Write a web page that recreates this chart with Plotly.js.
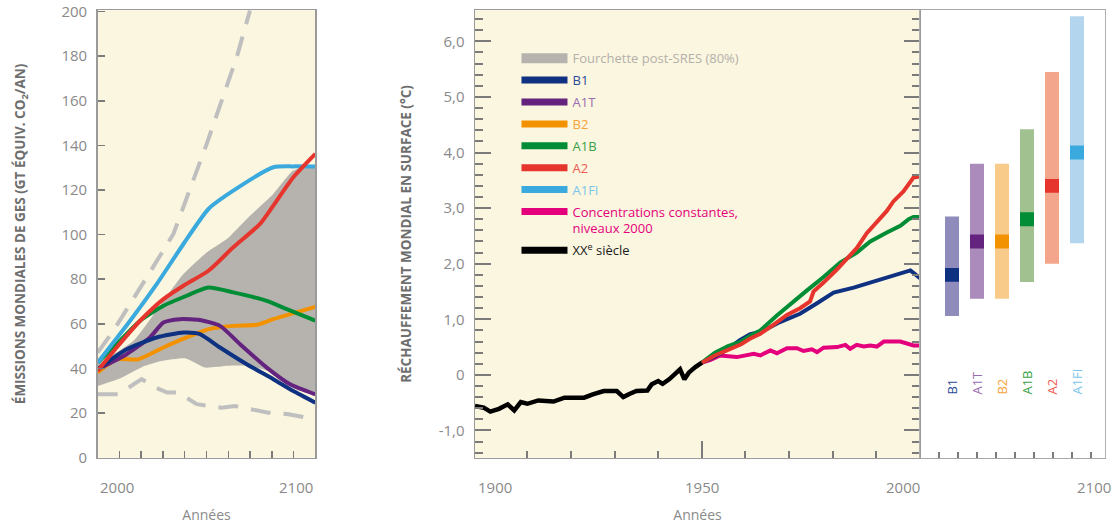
<!DOCTYPE html>
<html>
<head>
<meta charset="utf-8">
<script src="https://cdn.plot.ly/plotly-3.0.1.min.js"></script>
<style>html,body{margin:0;padding:0;background:#fff}#chart{width:1116px;height:524px}</style>
</head>
<body>
<div id="chart"></div>
<script>
// ---------- Left panel: emissions (Gt CO2-eq / yr) ----------
const bandUpperYears = [2000, 2016.4, 2030.2, 2039.4, 2050.1, 2059.3, 2070, 2080.7, 2089.9, 2100];
const bandUpperVals  = [42, 52.4, 70.3, 82.3, 92.0, 98.0, 108.5, 118.2, 128.7, 131];
const bandLowerYears = [2000, 2011, 2021.7, 2029.4, 2040.1, 2044.7, 2049.3, 2060, 2069.2, 2078.4, 2090, 2100];
const bandLowerVals  = [32.2, 35.9, 41.2, 43.4, 44.6, 42.6, 40.4, 41.2, 41.2, 38.9, 33, 29];

const dashUpperYears = [2000, 2007.2, 2022.5, 2034.8, 2050.1, 2063.9, 2070];
const dashUpperVals  = [47.1, 56.9, 80.8, 100.3, 140.7, 179.6, 200.5];
const dashLowerYears = [2000, 2009.5, 2020.2, 2027.1, 2032, 2037, 2045.5, 2057, 2063, 2067.7, 2078.4, 2087.6, 2100];
const dashLowerVals  = [28.5, 28.5, 35.2, 31.2, 29.2, 29.2, 24.0, 22.4, 23.2, 22.2, 20.2, 19.5, 17.2];

const emB2Years   = [2000, 2008.7, 2018.7, 2030.2, 2040.9, 2050.9, 2062.3, 2073.1, 2080.7, 2100];
const emB2Vals    = [38.2, 44.1, 44.1, 49.4, 53.9, 57.6, 59.1, 59.6, 62.1, 67.6];
const emA1BYears  = [2000, 2008.7, 2019.5, 2030.2, 2040.9, 2050.9, 2062.3, 2077.7, 2086.9, 2100];
const emA1BVals   = [42.6, 50.9, 61.4, 68.1, 72.6, 76.3, 74.1, 70.3, 66.6, 61.4];
const emA1FIYears = [2000, 2014.9, 2027.1, 2039.4, 2050.9, 2062.3, 2080.7, 2089.9, 2100];
const emA1FIVals  = [42.6, 61.4, 77.8, 95.8, 111.5, 119.7, 130.2, 130.6, 130.5];
const emA1TYears  = [2000, 2013.3, 2024, 2030.2, 2037.8, 2047, 2056.2, 2065.4, 2077.7, 2088.4, 2100];
const emA1TVals   = [39.7, 46.4, 53.9, 60.6, 62.1, 61.7, 59.1, 50.9, 40.4, 32.9, 28.4];
const emB1Years   = [2000, 2013.3, 2027.1, 2039.4, 2047, 2056.2, 2068.5, 2080.7, 2089.9, 2100];
const emB1Vals    = [39.7, 48.6, 53.9, 56.1, 55.4, 49.4, 41.9, 35.2, 29.9, 24.7];
const emA2Years   = [2000, 2008.7, 2019.5, 2030.2, 2039.4, 2050.9, 2062.3, 2074.6, 2080.7, 2089.9, 2100];
const emA2Vals    = [38.9, 49.4, 61.4, 71.1, 77.1, 83.8, 94.3, 104.8, 113.0, 125.7, 136.2];
const emTicks = [0, 20, 40, 60, 80, 100, 120, 140, 160, 180, 200];

// ---------- Middle panel: surface warming (°C) ----------
const histYears = [1898, 1900, 1901.5, 1903.5, 1905.5, 1907, 1908.5, 1910, 1912.5, 1916, 1918.5, 1921.5, 1923, 1925, 1927.5, 1930.5, 1932, 1933.5, 1935, 1937.5, 1938.5, 1940, 1941, 1942.5, 1943.5, 1945, 1946, 1947, 1948.5, 1950];
const histVals  = [-0.56, -0.59, -0.66, -0.61, -0.53, -0.64, -0.49, -0.52, -0.46, -0.48, -0.41, -0.40, -0.41, -0.35, -0.29, -0.29, -0.40, -0.34, -0.29, -0.28, -0.17, -0.11, -0.16, -0.08, 0.0, 0.10, -0.08, 0.04, 0.14, 0.22];

const tB1Years = [1950, 1952, 1954.2, 1956.5, 1958.8, 1961, 1964, 1967.9, 1972.5, 1976.4, 1980.2, 1984.8, 1988.6, 1992.4, 1995.5, 1997.8, 2000];
const tB1Vals  = [0.22, 0.30, 0.38, 0.50, 0.63, 0.73, 0.79, 0.95, 1.10, 1.29, 1.48, 1.57, 1.66, 1.75, 1.82, 1.88, 1.74];
const tA1BYears = [1950, 1953, 1956, 1959, 1961, 1963.4, 1967.2, 1971, 1974.1, 1977.9, 1981.7, 1985.5, 1988.6, 1992.4, 1995.5, 1997.4, 1998.5, 2000];
const tA1BVals  = [0.22, 0.40, 0.52, 0.60, 0.70, 0.80, 1.07, 1.33, 1.52, 1.76, 2.02, 2.20, 2.40, 2.56, 2.68, 2.80, 2.84, 2.84];
const tA2Years = [1950, 1953, 1956, 1959, 1961, 1963.4, 1966.4, 1969.5, 1972.5, 1974.8, 1975.6, 1977.9, 1981, 1984, 1985.5, 1987.8, 1990.1, 1992.4, 1993.9, 1996.2, 1998.5, 2000];
const tA2Vals  = [0.22, 0.35, 0.45, 0.55, 0.65, 0.74, 0.90, 1.08, 1.20, 1.32, 1.50, 1.66, 1.90, 2.15, 2.28, 2.55, 2.75, 2.95, 3.12, 3.30, 3.55, 3.57];
const tConstYears = [1950, 1952, 1954.2, 1958, 1961.9, 1963.4, 1965.7, 1967.2, 1969.5, 1971.8, 1973.3, 1975.2, 1976.4, 1977.9, 1981, 1982.9, 1984, 1985.5, 1987.1, 1988.6, 1990.1, 1991.7, 1995.5, 1998.5, 2000];
const tConstVals  = [0.22, 0.27, 0.35, 0.32, 0.38, 0.35, 0.44, 0.39, 0.48, 0.48, 0.43, 0.46, 0.41, 0.49, 0.50, 0.54, 0.47, 0.54, 0.51, 0.53, 0.51, 0.60, 0.60, 0.53, 0.53];
const tempTickVals = [-1, 0, 1, 2, 3, 4, 5, 6];
const tempTickText = ['-1,0', '0', '1,0', '2,0', '3,0', '4,0', '5,0', '6,0'];

// ---------- Right panel: likely ranges by scenario ----------
const scenarios = ['B1', 'A1T', 'B2', 'A1B', 'A2', 'A1FI'];
const rangeLow  = [1.06, 1.37, 1.37, 1.67, 2.0, 2.37];
const rangeHigh = [2.85, 3.8, 3.8, 4.42, 5.45, 6.45];
const bestEst   = [1.8, 2.4, 2.4, 2.8, 3.4, 4.0];

// ---------- Styles ----------
const C = {
  B1: '#0e3182', A1T: '#64237f', B2: '#f39200', A1B: '#008d36', A2: '#e5352d', A1FI: '#3aa9dd',
  cst: '#e4007c', hist: '#000000', band: '#b6b3ae', dash: '#bfbfbf', cream: '#fbf6df'
};
const lightC = {B1: '#8f8bbb', A1T: '#ab8bbb', B2: '#f8cb8b', A1B: '#a1c190', A2: '#f3a68c', A1FI: '#b3d6ee'};
const labelC = {B1: '#2b4a99', A1T: '#9b6cb1', B2: '#f5a33b', A1B: '#3aa14a', A2: '#ef5a50', A1FI: '#7cc4ea'};
const tickGrey = '#7b7b7b';
const labelGrey = '#8a8a8a';
const FONT = 'Open Sans, sans-serif';

const traces = [];
// grey band
traces.push({
  x: bandUpperYears.concat(bandLowerYears.slice().reverse()),
  y: bandUpperVals.concat(bandLowerVals.slice().reverse()),
  xaxis: 'x', yaxis: 'y', mode: 'lines', fill: 'toself', fillcolor: C.band,
  line: {width: 0, color: C.band, shape: 'spline', smoothing: 0.5}, showlegend: false, hoverinfo: 'skip'
});
[[dashUpperYears, dashUpperVals], [dashLowerYears, dashLowerVals]].forEach(([x, y]) => traces.push({
  x, y, xaxis: 'x', yaxis: 'y', mode: 'lines', showlegend: false,
  line: {color: C.dash, width: 4, dash: '20px,13px'}
}));
[['B2', emB2Years, emB2Vals], ['A1B', emA1BYears, emA1BVals], ['A1FI', emA1FIYears, emA1FIVals],
 ['A1T', emA1TYears, emA1TVals], ['B1', emB1Years, emB1Vals], ['A2', emA2Years, emA2Vals]].forEach(([k, x, y]) => traces.push({
  x, y, xaxis: 'x', yaxis: 'y', mode: 'lines', showlegend: false, name: k,
  line: {color: C[k], width: 4, shape: 'spline', smoothing: 0.6}
}));

// middle panel
[['cst', tConstYears, tConstVals], ['B1', tB1Years, tB1Vals], ['A1B', tA1BYears, tA1BVals],
 ['A2', tA2Years, tA2Vals], ['hist', histYears, histVals]].forEach(([k, x, y]) => traces.push({
  x, y, xaxis: 'x2', yaxis: 'y2', mode: 'lines', showlegend: false,
  line: {color: C[k], width: k === 'hist' ? 4.5 : 4}
}));

// right panel bars
const pos = scenarios.map((s, i) => i);
traces.push({
  type: 'bar', x: pos, y: rangeHigh.map((h, i) => h - rangeLow[i]), base: rangeLow,
  xaxis: 'x3', yaxis: 'y3', width: 0.56, marker: {color: scenarios.map(s => lightC[s]), line: {width: 0}},
  showlegend: false, hoverinfo: 'skip'
});
traces.push({
  type: 'bar', x: pos, y: bestEst.map(() => 0.25), base: bestEst.map(b => b - 0.125),
  xaxis: 'x3', yaxis: 'y3', width: 0.56, marker: {color: scenarios.map(s => C[s]), line: {width: 0}},
  showlegend: false, hoverinfo: 'skip'
});

// legend entries
const legendItems = [
  ['Fourchette post-SRES (80%)', C.band, '#b3b0ab', 10],
  ['B1', C.B1, labelC.B1, 7],
  ['A1T', C.A1T, labelC.A1T, 7],
  ['B2', C.B2, labelC.B2, 7],
  ['A1B', C.A1B, labelC.A1B, 7],
  ['A2', C.A2, labelC.A2, 7],
  ['A1FI', C.A1FI, labelC.A1FI, 7],
  ['Concentrations constantes,<br>niveaux 2000', C.cst, '#e4007c', 7],
  ['XX<sup>e</sup> siècle', '#000000', '#1a1a1a', 7]
];
legendItems.forEach(([name, col, tcol, w], i) => traces.push({
  x: [null], y: [null], xaxis: 'x2', yaxis: 'y2', mode: 'lines',
  name: '<span style="color:' + tcol + '">' + name + '</span>',
  legendgroup: 'g' + i, line: {color: col, width: w}, showlegend: true
}));

const yDom = [0.1265, 0.9805];
const axisLine = '#9a9a9a';

const layout = {
  width: 1116, height: 524,
  margin: {l: 0, r: 0, t: 0, b: 0},
  paper_bgcolor: '#ffffff', plot_bgcolor: '#ffffff',
  font: {family: FONT, color: labelGrey, size: 15},
  separators: ', ',
  showlegend: true,
  barmode: 'overlay',
  legend: {
    x: 0.4628, y: 0.9175, xanchor: 'left', yanchor: 'top',
    bgcolor: 'rgba(0,0,0,0)', borderwidth: 0, itemwidth: 46,
    font: {family: FONT, size: 13}, tracegroupgap: 2, valign: 'top',
    itemclick: false, itemdoubleclick: false
  },
  xaxis: {
    domain: [0.08754, 0.28253], range: [2000, 2100], anchor: 'y',
    showline: true, linecolor: axisLine, linewidth: 1.5, mirror: true,
    ticks: 'inside', tickvals: [2010, 2020, 2030, 2040, 2050, 2060, 2070, 2080, 2090],
    ticklen: 7, tickwidth: 1.5, tickcolor: tickGrey, showticklabels: false,
    showgrid: false, zeroline: false,
    title: {text: 'Années', font: {size: 14, color: labelGrey}, standoff: 54}
  },
  yaxis: {
    domain: yDom, range: [0, 200.6], anchor: 'x',
    showline: true, linecolor: axisLine, linewidth: 1.5, mirror: true,
    ticks: 'inside', tickvals: emTicks, ticklen: 7, tickwidth: 1.5, tickcolor: tickGrey,
    tickfont: {size: 15, color: labelGrey}, ticklabelstandoff: 6,
    showgrid: false, zeroline: false,
    title: {text: 'ÉMISSIONS MONDIALES DE GES (GT ÉQUIV. CO<sub>2</sub>/AN)', font: {size: 13.5, color: '#6e6e6e', weight: 700}, standoff: 32}
  },
  xaxis2: {
    domain: [0.42563, 0.82437], range: [1898, 2000], anchor: 'y2',
    showline: true, linecolor: axisLine, linewidth: 1.5, mirror: true,
    ticks: 'inside', tickvals: [1950], ticklen: 17, tickwidth: 2, tickcolor: tickGrey,
    minor: {tickmode: 'array', tickvals: [1910, 1920, 1930, 1940, 1960, 1970, 1980, 1990], ticks: 'inside', ticklen: 7, tickwidth: 2, tickcolor: tickGrey},
    showticklabels: false, showgrid: false, zeroline: false,
    title: {text: 'Années', font: {size: 14, color: labelGrey}, standoff: 54}
  },
  yaxis2: {
    domain: yDom, range: [-1.49, 6.56], anchor: 'x2',
    showline: true, linecolor: axisLine, linewidth: 1.5, mirror: 'ticks',
    ticks: 'inside', tickvals: tempTickVals, ticktext: tempTickText, ticklen: 16, tickwidth: 2, tickcolor: tickGrey,
    minor: {dtick: 0.2, ticks: 'inside', ticklen: 8, tickwidth: 2, tickcolor: tickGrey},
    tickfont: {size: 15, color: labelGrey}, ticklabelstandoff: 6,
    showgrid: false, zeroline: false,
    title: {text: 'RÉCHAUFFEMENT MONDIAL EN SURFACE (°C)', font: {size: 13.5, color: '#6e6e6e', weight: 700}, standoff: 24}
  },
  xaxis3: {
    domain: [0.82437, 0.99014], range: [-1.28, 6.12], anchor: 'y3',
    showline: true, linecolor: '#a8a8a8', linewidth: 1.5, mirror: true,
    ticks: 'inside', tickmode: 'linear', tick0: -0.52, dtick: 0.76, ticklen: 6, tickwidth: 2, tickcolor: tickGrey,
    showticklabels: false, showgrid: false, zeroline: false
  },
  yaxis3: {
    domain: yDom, range: [-1.49, 6.56], anchor: 'x3',
    showline: true, linecolor: '#b0b0b0', linewidth: 1, mirror: true,
    ticks: '', showticklabels: false, showgrid: false, zeroline: false
  },
  shapes: [
    {type: 'rect', xref: 'x domain', yref: 'y domain', x0: 0, x1: 1, y0: 0, y1: 1, fillcolor: C.cream, line: {width: 0}, layer: 'below'},
    {type: 'rect', xref: 'x2 domain', yref: 'y2 domain', x0: 0, x1: 1, y0: 0, y1: 1, fillcolor: C.cream, line: {width: 0}, layer: 'below'}
  ],
  annotations: []
};

const tickAnn = (text, xref, x, xanchor, xshift) => ({
  text, xref, x, xanchor, xshift: xshift || 0, yref: 'paper', y: (524 - 487) / 524, yanchor: 'middle',
  showarrow: false, font: {size: 15, color: labelGrey, family: FONT}
});
layout.annotations.push(
  tickAnn('2000', 'x', 2000, 'left'), tickAnn('2100', 'x', 2100, 'right'),
  tickAnn('1900', 'x2', 1898, 'left', 1), tickAnn('1950', 'x2', 1950, 'center'), tickAnn('2000', 'x2', 2000, 'right', 2),
  tickAnn('2100', 'x3 domain', 1, 'right', 8)
);
scenarios.forEach((s, i) => layout.annotations.push({
  text: s, xref: 'x3', x: i, yref: 'y3', y: -0.39, xanchor: 'center', yanchor: 'bottom',
  textangle: -90, showarrow: false, font: {size: 13, color: labelC[s], family: FONT}
}));

Plotly.newPlot('chart', traces, layout, {displayModeBar: false, staticPlot: true});
</script>
</body>
</html>
